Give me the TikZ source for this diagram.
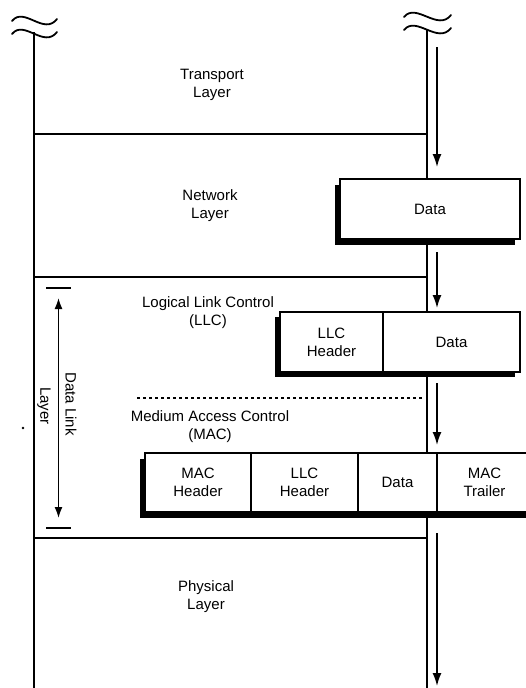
\documentclass[tikz,border=0pt]{standalone}
\usepackage{fontspec}
\setmainfont{Liberation Sans}
\usetikzlibrary{arrows.meta}
\pgfdeclarelayer{background}
\pgfsetlayers{background,main}
\begin{document}
\begin{tikzpicture}[x=1pt,y=-1pt,
  every node/.style={font=\fontsize{15}{18}\selectfont, inner sep=0pt, outer sep=0pt},
  layer/.style={align=center},
  frame/.style={line width=2pt},
  sep/.style={line width=1.6pt},
  cell/.style={draw, line width=1.8pt, fill=white, minimum height=60pt, align=center, anchor=north west},
  flow/.style={line width=1.6pt, -{Latex[length=13pt,width=9pt]}},
  span/.style={line width=1.6pt, {Latex[length=11pt,width=8pt]}-{Latex[length=11pt,width=8pt]}},
  tilde/.style={line width=1.8pt, line cap=round},
  shade/.style={fill=black}
]
\useasboundingbox (0,0) rectangle (526,688);
\clip (0,0) rectangle (526,688);

% boxes (units)
\node[cell, minimum width=180pt] (netdata) at (340,179) {Data};
\node[cell, minimum width=103pt] (llch) at (280,312) {LLC\\Header};
\node[cell, minimum width=137pt] (llcd) at (383,312) {Data};
\node[cell, minimum width=106pt, minimum height=59pt] (mach) at (145,453) {MAC\\Header};
\node[cell, minimum width=107pt, minimum height=59pt] (macllc) at (251,453) {LLC\\Header};
\node[cell, minimum width=79pt, minimum height=59pt] (macdata) at (358,453) {Data};
\node[cell, minimum width=95pt, minimum height=59pt, text width=80pt] (mactr) at (437,453) {MAC\\Trailer};

% layer labels
\node[layer] (transport) at (212,85) {Transport\\Layer};
\node[layer] (network) at (210,206) {Network\\Layer};
\node[layer] (llc) at (208,313) {Logical Link Control\\(LLC)};
\node[layer] (mac) at (210,427) {Medium Access Control\\(MAC)};
\node[layer] (phys) at (206,597) {Physical\\Layer};
\node[rotate=-90] (dl1) at (71,404) {Data Link};
\node[rotate=-90] (dl2) at (44,406) {Layer};

% coordinates
\coordinate (lt) at (34,32);
\coordinate (lb) at (34,688);
\coordinate (rt) at (427,30);
\coordinate (rb) at (427,688);
\coordinate (ax) at (437,47);
\coordinate (aend) at (437,686);
\coordinate (h1l) at (34,134);
\coordinate (h2l) at (34,277);
\coordinate (h3l) at (34,538);
\coordinate (dl) at (137,398);
\coordinate (dr) at (422,398);
\coordinate (bt1) at (46,288);
\coordinate (bt2) at (71,288);
\coordinate (bb1) at (46,528);
\coordinate (bb2) at (71,528);
\coordinate (bm) at (58.5,288);
\coordinate (bn) at (58.5,528);

\begin{pgfonlayer}{background}
  \fill[white] (0,0) rectangle (526,688);
  \draw[frame] (lt) -- (lb);
  \draw[frame] (rt) -- (rb);
  \draw[sep] (h1l) -- (h1l -| rt);
  \draw[sep] (h2l) -- (h2l -| rt);
  \draw[sep] (h3l) -- (h3l -| rt);
  \draw[sep, dash pattern=on 3pt off 3pt] (dl) -- (dr);
  % shadows
  \fill[shade] ([xshift=-5pt,yshift=-6pt]netdata.north west) rectangle ([xshift=-5pt,yshift=-6pt]netdata.south east);
  \fill[shade] ([xshift=-5pt,yshift=-5pt]llch.north west) rectangle ([xshift=-5pt,yshift=-5pt]llcd.south east);
  \fill[shade] ([xshift=-5pt,yshift=-6pt]mach.north west) rectangle ([xshift=-5pt,yshift=-6pt]mactr.south east);
\end{pgfonlayer}

% tildes
\draw[tilde] (12,21) .. controls (24,6) and (44,36) .. (57,19);
\draw[tilde] (12,34) .. controls (24,19) and (44,49) .. (57,32);
\draw[tilde] (404,17) .. controls (416,2) and (438,32) .. (451,15);
\draw[tilde] (404,30) .. controls (416,15) and (438,45) .. (451,28);

% data flow arrows
\draw[flow, shorten >=12pt] (ax) -- (netdata.north -| ax);
\draw[flow, shorten <=13pt, shorten >=4pt] (netdata.south -| ax) -- (llcd.north -| ax);
\draw[flow, shorten <=11pt, shorten >=8pt] (llcd.south -| ax) -- (mactr.north -| ax);
\draw[flow, shorten <=21pt] (macdata.south east) -- (aend);

% data link bracket
\draw[sep] (bt1) -- (bt2);
\draw[sep] (bb1) -- (bb2);
\draw[span, shorten <=10pt, shorten >=10pt] (bm) -- (bn);

% stray dot
\fill (23,428) circle (1.3pt);
\end{tikzpicture}
\end{document}
